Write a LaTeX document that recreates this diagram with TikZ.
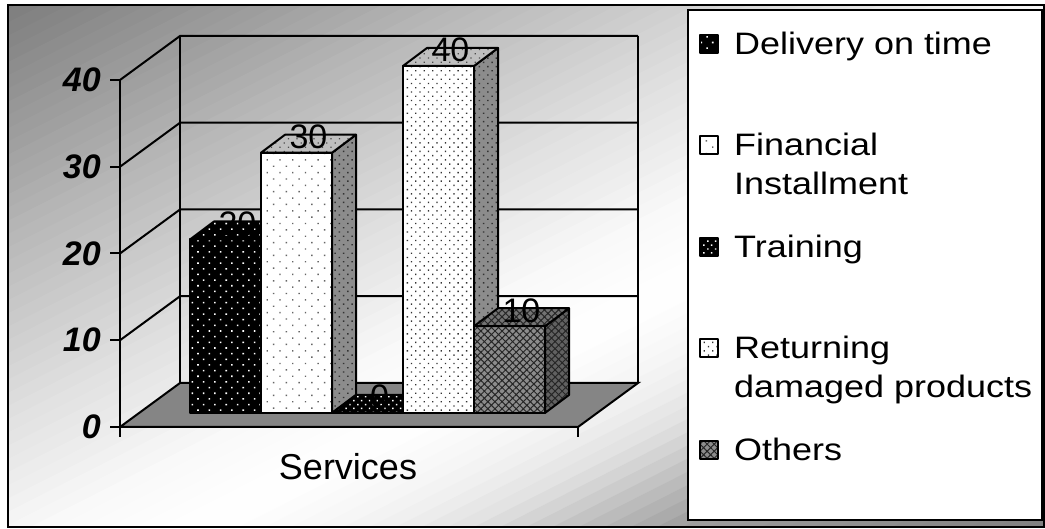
\documentclass[tikz,border=0pt]{standalone}
\usepackage{fontspec}
\usetikzlibrary{patterns.meta,positioning}
\newfontfamily\chartsans{Liberation Sans}
\newfontfamily\legendsans[FakeStretch=1.16]{Liberation Sans}
\begin{document}
\begin{tikzpicture}[x=1pt, y=1pt,
frame/.style={draw=black, line width=2.5pt},
grid/.style={draw=black, line width=2pt},
face/.style={draw=black, line width=2pt, line join=round},
darkdots/.style={face, preaction={fill=black}, preaction={pattern={Dots[distance=8pt, radius=1.1pt, angle=45]}, pattern color=white}},
darkdense/.style={face, preaction={fill=black}, preaction={pattern={Dots[distance=5.5pt, radius=1pt, angle=45]}, pattern color=white}},
paledots/.style={face, preaction={fill=white}, preaction={pattern={Dots[distance=9pt, radius=1pt, angle=45]}, pattern color=black!60}},
palegray/.style={face, preaction={fill=black!25}, preaction={pattern={Dots[distance=6pt, radius=0.9pt, angle=45]}, pattern color=black!70}},
sidegray/.style={face, preaction={fill=black!45}, preaction={pattern={Dots[distance=6pt, radius=1pt, angle=45]}, pattern color=black!80}},
whitedense/.style={face, preaction={fill=white}, preaction={pattern={Dots[distance=6pt, radius=1pt, angle=45]}, pattern color=black!80}},
cross/.style={face, preaction={fill=black!#1}, preaction={pattern={Hatch[angle=45, distance=5pt, line width=1pt]}, pattern color=black!85}},
ylab/.style={anchor=east, inner sep=0pt, font=\chartsans\fontsize{34}{38}\selectfont\bfseries\itshape},
vlab/.style={anchor=base, inner sep=0pt, font=\chartsans\fontsize{34}{38}\selectfont},
legkey/.style={minimum size=18pt, inner sep=0pt, line width=1.5pt},
legtext/.style={inner sep=0pt, text height=22pt, text depth=0pt, font=\legendsans\fontsize{31}{38}\selectfont},
]
\useasboundingbox (0,0) rectangle (1045,529);
% background: diagonal gray gradient in strips
\begin{scope}
\clip (8,2) rectangle (1044,524);
\foreach \i in {0,...,79}{
  \pgfmathsetmacro\t{(\i+0.5)/40}
  \pgfmathsetmacro\k{max(0, \t<0.5 ? 52-52*\t : (\t<0.8 ? 26-46.67*(\t-0.5) : (\t<1.05 ? 12-40*(\t-0.8) : (\t<1.2 ? 2-13.33*(\t-1.05) : (\t<1.35 ? 33.33*(\t-1.2) : (\t<1.45 ? 5+70*(\t-1.35) : (\t<1.65 ? 12+130*(\t-1.45) : 38+34.29*(\t-1.65))))))))}
  \fill[black!\k] ({26.125*\i},529) -- ({26.125*\i+28},529) -- ({26.125*\i+28-1045},0) -- ({26.125*\i-1045},0) -- cycle;
}
\end{scope}
\draw[frame] (8,2) rectangle (1044,524);
% walls and grid
\foreach \v in {10,20,30,40}
  \draw[grid] (120,{102+8.675*\v}) -- (180,{146+8.675*\v}) -- (638,{146+8.675*\v});
\draw[grid] (180,146) -- (180,493);
\draw[grid] (638,146) -- (638,493);
% floor
\draw[grid, fill=black!48] (120,102) -- (578,102) -- (638,146) -- (180,146) -- cycle;
\draw[grid] (120,92) -- (120,449);
\draw[grid] (578,102) -- (578,92);
\foreach \v in {0,10,20,30,40}{
  \draw[grid] (110,{102+8.675*\v}) -- (120,{102+8.675*\v});
  \node[ylab] (y\v) at (101,{102+8.675*\v}) {\v};
}
% bar 1: delivery on time
\path[darkdots] (261,116) -- (285,134) -- (285,307.5) -- (261,289.5) -- cycle;
\path[darkdots] (190,116) rectangle (261,289.5);
\path[darkdots] (190,289.5) -- (261,289.5) -- (285,307.5) -- (214,307.5) -- cycle;
% bar 2: financial installment
\path[sidegray] (332,116) -- (356,134) -- (356,394.25) -- (332,376.25) -- cycle;
\path[paledots] (261,116) rectangle (332,376.25);
\path[palegray] (261,376.25) -- (332,376.25) -- (356,394.25) -- (285,394.25) -- cycle;
% bar 3: training
\path[darkdense] (332,116) -- (403,116) -- (427,134) -- (356,134) -- cycle;
% bar 4: returning damaged products
\path[sidegray] (474,116) -- (498,134) -- (498,481) -- (474,463) -- cycle;
\path[whitedense] (403,116) rectangle (474,463);
\path[palegray] (403,463) -- (474,463) -- (498,481) -- (427,481) -- cycle;
% bar 5: others
\path[cross=62] (545,116) -- (569,134) -- (569,220.75) -- (545,202.75) -- cycle;
\path[cross=45] (474,116) rectangle (545,202.75);
\path[cross=55] (474,202.75) -- (545,202.75) -- (569,220.75) -- (498,220.75) -- cycle;
% value labels
\node[vlab] (v1) at (237.5,293.5) {20};
\node[vlab] (v2) at (308.5,380.25) {30};
\node[vlab] (v3) at (379.5,120) {0};
\node[vlab] (v4) at (450.5,467) {40};
\node[vlab] (v5) at (521.5,206.75) {10};
\node[anchor=base, inner sep=0pt, font=\chartsans\fontsize{36}{40}\selectfont] (cat) at (348,49) {Services};
% legend
\draw[frame, fill=white] (688,9) rectangle (1042,519);
\node[legkey, darkdots] (k1) at (709,485) {};
\node[legkey, paledots] (k2) at (709,384) {};
\node[legkey, darkdense] (k3) at (709,282) {};
\node[legkey, whitedense] (k4) at (709,181) {};
\node[legkey, cross=45] (k5) at (709,79) {};
\node[legtext, anchor=west, right=15pt of k1] (t1) {Delivery on time};
\node[legtext, anchor=west, right=15pt of k2] (t2) {Financial};
\node[legtext, anchor=north west] (t2b) at ([yshift=-16pt]t2.south west) {Installment};
\node[legtext, anchor=west, right=15pt of k3] (t3) {Training};
\node[legtext, anchor=west, right=15pt of k4] (t4) {Returning};
\node[legtext, anchor=north west] (t4b) at ([yshift=-16pt]t4.south west) {damaged products};
\node[legtext, anchor=west, right=15pt of k5] (t5) {Others};
\end{tikzpicture}
\end{document}
